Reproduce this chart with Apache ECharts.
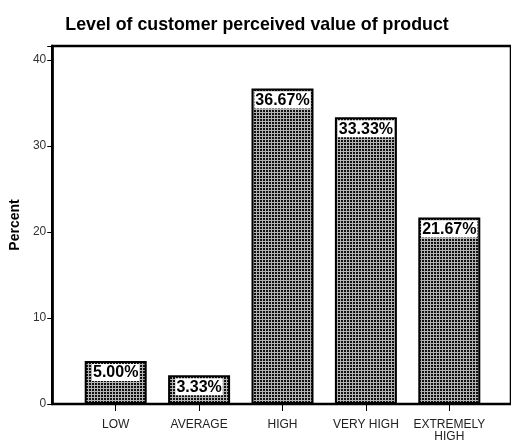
<!DOCTYPE html>
<html>
<head>
<meta charset="utf-8">
<script src="https://cdn.jsdelivr.net/npm/echarts@6/dist/echarts.min.js"></script>
<style>
  html, body { margin: 0; padding: 0; background: #fff; }
  #chart { width: 511px; height: 444px; }
</style>
</head>
<body>
<div id="chart"></div>
<script>
// Perceived value levels and the share of respondents in each
const categories = ['LOW', 'AVERAGE', 'HIGH', 'VERY HIGH', 'EXTREMELY\nHIGH'];
const percentValues = [5.00, 3.33, 36.67, 33.33, 21.67];
const yTicks = [0, 10, 20, 30, 40];

// Small checkered tile used as the bar fill
function makeHatch() {
  const c = document.createElement('canvas');
  c.width = 3; c.height = 3;
  const g = c.getContext('2d');
  g.fillStyle = '#111';
  g.fillRect(0, 0, 3, 3);
  g.fillStyle = '#b4b4b4';
  g.fillRect(0, 1, 3, 1);
  g.fillRect(1, 0, 1, 3);
  return c;
}

const chart = echarts.init(document.getElementById('chart'), null, { renderer: 'canvas' });
const yMax = 41.6;
const font = '"Liberation Sans", Arial, sans-serif';

chart.setOption({
  animation: false,
  title: {
    text: 'Level of customer perceived value of product',
    left: 252, top: 11, textAlign: 'center',
    textStyle: { fontFamily: font, fontSize: 17.8, fontWeight: 'bold', color: '#000' }
  },
  grid: [
    { left: 51, right: -6, top: 46, bottom: 40, show: true, borderColor: '#000', borderWidth: 2.5, backgroundColor: 'transparent' },
    { left: 74, width: 417, top: 46, bottom: 40 }
  ],
  xAxis: [
    { gridIndex: 0, type: 'value', min: 0, max: 1, show: false },
    {
      gridIndex: 1, type: 'category', data: categories,
      axisLine: { show: false },
      axisTick: { show: true, alignWithLabel: true, length: 7, lineStyle: { color: '#000', width: 1 } },
      axisLabel: { interval: 0, margin: 15, fontFamily: font, fontSize: 12, color: '#222', lineHeight: 12 }
    }
  ],
  yAxis: [
    {
      gridIndex: 0, type: 'value', min: 0, max: yMax, interval: 10,
      name: 'Percent', nameLocation: 'middle', nameGap: 29, nameRotate: 90,
      nameTextStyle: { fontFamily: font, fontSize: 14, fontWeight: 'bold', color: '#000' },
      axisLine: { show: true, lineStyle: { color: '#000', width: 2.5 } },
      axisTick: { show: true, length: 5, lineStyle: { color: '#000', width: 1 } },
      axisLabel: {
        margin: 6, fontFamily: font, fontSize: 12, color: '#333',
        formatter: v => yTicks.indexOf(v) >= 0 ? String(v) : ''
      },
      splitLine: { show: false }
    },
    { gridIndex: 1, type: 'value', min: 0, max: yMax, show: false }
  ],
  series: [{
    type: 'bar',
    xAxisIndex: 1, yAxisIndex: 1,
    data: percentValues,
    barWidth: 62,
    itemStyle: {
      color: { image: makeHatch(), repeat: 'repeat' },
      borderColor: '#000', borderWidth: 2
    },
    label: {
      show: true, position: 'insideTop', distance: 3,
      formatter: p => p.value.toFixed(2) + '%',
      fontFamily: font, fontSize: 16, fontWeight: 'bold', color: '#000',
      backgroundColor: '#fff', padding: [1, 1, 0, 1], lineHeight: 16
    }
  }]
});
</script>
</body>
</html>
